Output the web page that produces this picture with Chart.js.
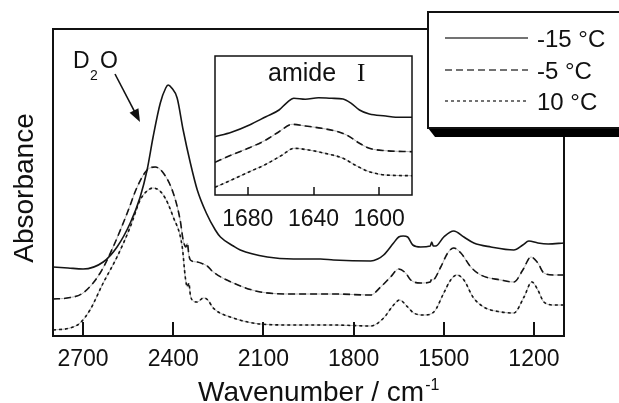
<!DOCTYPE html>
<html>
<head>
<meta charset="utf-8">
<script src="https://cdn.jsdelivr.net/npm/chart.js@4.4.1/dist/chart.umd.min.js"></script>
<style>
  html, body { margin: 0; padding: 0; background: #fff; }
  #wrap { position: relative; width: 619px; height: 403px; overflow: hidden; }
  #main { position: absolute; left: 0; top: 0; }
  #inset { position: absolute; left: 200px; top: 45px; }
</style>
</head>
<body>
<div id="wrap">
  <canvas id="main" width="619" height="403"></canvas>
  <canvas id="inset" width="230" height="200"></canvas>
</div>
<script>
const FONT = '"Liberation Sans", Arial, sans-serif';

// series labels
const labels = ['-15 °C', '-5 °C', '10 °C'];

// main spectrum, x = wavenumber (cm-1), y = absorbance (arb.)
const xTicks = [2700, 2400, 2100, 1800, 1500, 1200];
const wn15 = [2800,2750,2700,2633,2587,2543,2510,2487,2467,2443,2425,2417,2405,2387,2367,2343,2320,2290,2260,2243,2200,2177,2087,2000,1910,1867,1743,1720,1700,1667,1650,1635,1620,1603,1577,1545,1540,1535,1527,1500,1467,1433,1400,1343,1267,1237,1217,1187,1153,1100];
const ab15 = [0.345,0.340,0.335,0.370,0.445,0.565,0.695,0.830,0.995,1.165,1.240,1.255,1.240,1.190,1.030,0.865,0.730,0.615,0.530,0.495,0.450,0.430,0.395,0.385,0.385,0.380,0.375,0.385,0.405,0.465,0.495,0.500,0.495,0.455,0.445,0.450,0.470,0.450,0.450,0.495,0.525,0.495,0.465,0.445,0.430,0.455,0.475,0.465,0.460,0.465];
const wn5 = [2800,2753,2700,2643,2600,2553,2520,2487,2460,2433,2400,2377,2367,2358,2353,2348,2343,2320,2300,2287,2267,2200,2110,2000,1867,1743,1710,1677,1650,1627,1610,1577,1545,1540,1537,1510,1487,1467,1443,1410,1377,1310,1267,1237,1210,1187,1167,1133,1100];
const ab5 = [0.185,0.190,0.215,0.315,0.445,0.615,0.745,0.830,0.845,0.815,0.715,0.580,0.480,0.445,0.465,0.405,0.380,0.370,0.360,0.350,0.320,0.265,0.220,0.210,0.210,0.205,0.245,0.295,0.335,0.315,0.280,0.265,0.270,0.285,0.280,0.345,0.415,0.440,0.415,0.345,0.305,0.280,0.270,0.330,0.395,0.365,0.315,0.305,0.305];
const wn10 = [2800,2743,2710,2677,2633,2587,2543,2510,2483,2467,2433,2400,2370,2360,2353,2348,2343,2337,2320,2300,2285,2267,2200,2110,2000,1867,1743,1700,1667,1647,1620,1600,1567,1533,1500,1477,1457,1433,1403,1367,1310,1267,1233,1207,1187,1167,1133,1100];
const ab10 = [0.030,0.040,0.065,0.130,0.265,0.395,0.545,0.680,0.730,0.740,0.705,0.595,0.445,0.295,0.245,0.265,0.205,0.180,0.170,0.190,0.180,0.140,0.090,0.060,0.055,0.055,0.050,0.090,0.155,0.180,0.145,0.115,0.105,0.120,0.215,0.280,0.305,0.280,0.195,0.145,0.120,0.115,0.195,0.270,0.230,0.170,0.155,0.155];

// inset, amide I region
const insetTicks = [1680, 1640, 1600];
const iwn15 = [1700,1690,1679,1669,1661,1656,1652,1645,1637,1629,1622,1617,1612,1606,1596,1590,1580];
const iab15 = [0.583,0.627,0.700,0.783,0.850,0.927,0.967,0.957,0.973,0.967,0.960,0.917,0.850,0.810,0.790,0.777,0.777];
const iwn5 = [1700,1690,1679,1669,1661,1653,1645,1635,1625,1619,1612,1606,1596,1580];
const iab5 = [0.327,0.400,0.473,0.550,0.633,0.707,0.690,0.667,0.633,0.593,0.517,0.467,0.443,0.433];
const iwn10 = [1700,1690,1679,1669,1659,1652,1643,1633,1622,1614,1606,1596,1580];
const iab10 = [0.077,0.150,0.233,0.307,0.400,0.467,0.450,0.417,0.367,0.293,0.233,0.200,0.193];

const dashes = [[], [7, 4], [3, 3]];

function pts(wn, ab) {
  return wn.map((w, i) => ({ x: w, y: ab[i] }));
}

// a dashed curve gets a faint grey line under it, like the scanned figure
function makeSets(series) {
  const sets = [];
  series.forEach((s, i) => {
    const data = pts(s[0], s[1]);
    sets.push({
      label: labels[i], data: data, borderColor: '#151515', borderWidth: 1.6,
      borderDash: dashes[i], pointRadius: 0, cubicInterpolationMode: 'monotone', order: 1
    });
    if (dashes[i].length) {
      sets.push({
        label: '', data: data, borderColor: '#b4b4b4', borderWidth: 1,
        pointRadius: 0, cubicInterpolationMode: 'monotone', order: 2
      });
    }
  });
  return sets;
}

const mainDecor = {
  id: 'mainDecor',
  afterDraw(chart) {
    const { ctx, chartArea: a } = chart;
    const x = chart.scales.x;
    ctx.save();
    ctx.strokeStyle = '#111';
    ctx.fillStyle = '#111';
    ctx.lineWidth = 2;
    ctx.strokeRect(a.left, a.top, a.right - a.left, a.bottom - a.top);

    // inward ticks on bottom axis
    xTicks.forEach(v => {
      const px = Math.round(x.getPixelForValue(v));
      ctx.beginPath();
      ctx.moveTo(px, a.bottom);
      ctx.lineTo(px, a.bottom - 14);
      ctx.stroke();
    });
    ctx.font = '23px ' + FONT;
    ctx.textAlign = 'center';
    ctx.textBaseline = 'alphabetic';
    xTicks.forEach(v => ctx.fillText(String(v), x.getPixelForValue(v), 366));

    // axis titles
    ctx.font = '28px ' + FONT;
    ctx.textAlign = 'left';
    const t = 'Wavenumber / cm';
    ctx.fillText(t, 198, 401);
    const tw = ctx.measureText(t).width;
    ctx.font = '16px ' + FONT;
    ctx.fillText('-1', 198 + tw + 1, 390);

    ctx.save();
    ctx.translate(33, 188);
    ctx.rotate(-Math.PI / 2);
    ctx.font = '28px ' + FONT;
    ctx.textAlign = 'center';
    ctx.fillText('Absorbance', 0, 0);
    ctx.restore();

    // D2O label and arrow
    ctx.textAlign = 'left';
    ctx.font = '23px ' + FONT;
    ctx.fillText('D', 73, 68);
    ctx.font = '14px ' + FONT;
    ctx.fillText('2', 90, 80);
    ctx.font = '23px ' + FONT;
    ctx.fillText('O', 100, 68);
    const x0 = 115, y0 = 74, x1 = 140, y1 = 122;
    const len = Math.hypot(x1 - x0, y1 - y0);
    const ux = (x1 - x0) / len, uy = (y1 - y0) / len;
    ctx.lineWidth = 1.6;
    ctx.beginPath();
    ctx.moveTo(x0, y0);
    ctx.lineTo(x1 - ux * 8, y1 - uy * 8);
    ctx.stroke();
    const bx = x1 - ux * 13, by = y1 - uy * 13;
    ctx.beginPath();
    ctx.moveTo(x1, y1);
    ctx.lineTo(bx - uy * 5, by + ux * 5);
    ctx.lineTo(bx + uy * 5, by - ux * 5);
    ctx.closePath();
    ctx.fill();

    // legend box with drop shadow
    ctx.fillStyle = '#000';
    ctx.beginPath();
    ctx.moveTo(428, 128);
    ctx.lineTo(630, 128);
    ctx.lineTo(630, 137);
    ctx.lineTo(435, 137);
    ctx.closePath();
    ctx.fill();
    ctx.fillStyle = '#fff';
    ctx.fillRect(428, 12, 200, 116);
    ctx.lineWidth = 2;
    ctx.strokeStyle = '#111';
    ctx.strokeRect(428, 12, 200, 116);

    const rows = [38, 70, 101];
    ctx.font = '24px ' + FONT;
    ctx.fillStyle = '#111';
    labels.forEach((lab, i) => {
      ctx.strokeStyle = '#444';
      ctx.lineWidth = 1.5;
      ctx.setLineDash(dashes[i]);
      ctx.beginPath();
      ctx.moveTo(445, rows[i]);
      ctx.lineTo(528, rows[i]);
      ctx.stroke();
      ctx.setLineDash([]);
      ctx.fillText(lab, 537, rows[i] + 9);
    });
    ctx.restore();
  }
};

const insetDecor = {
  id: 'insetDecor',
  beforeDraw(chart) {
    const { ctx, chartArea: a } = chart;
    ctx.save();
    ctx.fillStyle = '#fff';
    ctx.fillRect(a.left, a.top, a.right - a.left, a.bottom - a.top);
    ctx.restore();
  },
  afterDraw(chart) {
    const { ctx, chartArea: a } = chart;
    const x = chart.scales.x;
    ctx.save();
    ctx.strokeStyle = '#111';
    ctx.fillStyle = '#111';
    ctx.lineWidth = 1.5;
    ctx.strokeRect(a.left, a.top, a.right - a.left, a.bottom - a.top);
    insetTicks.forEach(v => {
      const px = Math.round(x.getPixelForValue(v));
      ctx.beginPath();
      ctx.moveTo(px, a.bottom);
      ctx.lineTo(px, a.bottom - 8);
      ctx.stroke();
    });
    ctx.font = '23px ' + FONT;
    ctx.textAlign = 'center';
    insetTicks.forEach(v => ctx.fillText(String(v), x.getPixelForValue(v), 181));
    ctx.textAlign = 'left';
    ctx.font = '25px ' + FONT;
    ctx.fillText('amide', 68, 36);
    ctx.font = '25px "Liberation Serif", "Times New Roman", serif';
    ctx.fillText('I', 157, 36);
    ctx.restore();
  }
};

const baseOpts = {
  responsive: false,
  animation: false,
  devicePixelRatio: 1,
  events: [],
  plugins: { legend: { display: false }, tooltip: { enabled: false } }
};

new Chart(document.getElementById('main').getContext('2d'), {
  type: 'line',
  data: { datasets: makeSets([[wn15, ab15], [wn5, ab5], [wn10, ab10]]) },
  options: Object.assign({}, baseOpts, {
    layout: { padding: { left: 53, top: 29, right: 55, bottom: 67 } },
    scales: {
      x: { type: 'linear', reverse: true, min: 1100, max: 2800, display: false },
      y: { type: 'linear', min: 0, max: 1.535, display: false }
    }
  }),
  plugins: [mainDecor]
});

new Chart(document.getElementById('inset').getContext('2d'), {
  type: 'line',
  data: { datasets: makeSets([[iwn15, iab15], [iwn5, iab5], [iwn10, iab10]]) },
  options: Object.assign({}, baseOpts, {
    layout: { padding: { left: 15, top: 11, right: 18, bottom: 50 } },
    scales: {
      x: { type: 'linear', reverse: true, min: 1580, max: 1700, display: false },
      y: { type: 'linear', min: 0, max: 1.39, display: false }
    }
  }),
  plugins: [insetDecor]
});
</script>
</body>
</html>
